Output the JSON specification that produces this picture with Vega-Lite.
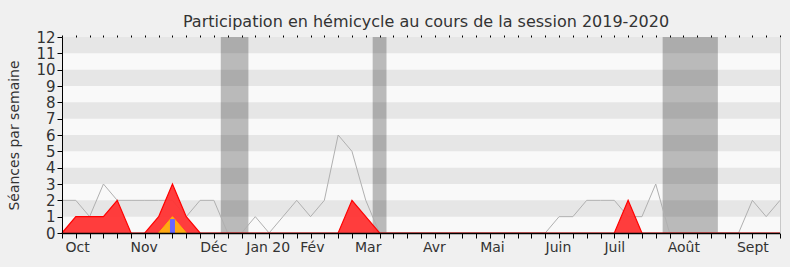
{
  "$schema": "https://vega.github.io/schema/vega-lite/v6.json",
  "width": 718,
  "height": 196,
  "autosize": {"type": "none"},
  "padding": {"left": 62, "top": 37, "right": 10, "bottom": 34},
  "background": "#f0f0f0",
  "title": {
    "text": "Participation en hémicycle au cours de la session 2019-2020",
    "font": "DejaVu Sans",
    "fontSize": 16,
    "fontWeight": "normal",
    "color": "#333333",
    "anchor": "middle",
    "frame": "group",
    "baseline": "alphabetic",
    "offset": 8,
    "dy": 21,
    "dx": 5
  },
  "config": {
    "font": "DejaVu Sans",
    "view": {"fill": "#f9f9f9", "stroke": null},
    "axis": {"zindex": 1, "grid": false}
  },
  "datasets": {
    "bandes": [
      {"bas": 1, "haut": 2}, {"bas": 3, "haut": 4}, {"bas": 5, "haut": 6},
      {"bas": 7, "haut": 8}, {"bas": 9, "haut": 10}, {"bas": 11, "haut": 12}
    ],
    "vacances": [
      {"debut": 11.5, "fin": 13.5},
      {"debut": 22.5, "fin": 23.5},
      {"debut": 43.5, "fin": 47.5}
    ],
    "semaines": [
      {"semaine": 0, "total": 2, "presence": 0},
      {"semaine": 1, "total": 2, "presence": 1},
      {"semaine": 2, "total": 1, "presence": 1},
      {"semaine": 3, "total": 3, "presence": 1},
      {"semaine": 4, "total": 2, "presence": 2},
      {"semaine": 5, "total": 2, "presence": 0},
      {"semaine": 6, "total": 2, "presence": 0},
      {"semaine": 7, "total": 2, "presence": 1, "interventions": 0},
      {"semaine": 8, "total": 2, "presence": 3, "interventions": 1, "questions": 0.85},
      {"semaine": 9, "total": 1, "presence": 1, "interventions": 0},
      {"semaine": 10, "total": 2, "presence": 0},
      {"semaine": 11, "total": 2, "presence": 0},
      {"semaine": 12, "total": 0, "presence": 0},
      {"semaine": 13, "total": 0, "presence": 0},
      {"semaine": 14, "total": 1, "presence": 0},
      {"semaine": 15, "total": 0, "presence": 0},
      {"semaine": 16, "total": 1, "presence": 0},
      {"semaine": 17, "total": 2, "presence": 0},
      {"semaine": 18, "total": 1, "presence": 0},
      {"semaine": 19, "total": 2, "presence": 0},
      {"semaine": 20, "total": 6, "presence": 0},
      {"semaine": 21, "total": 5, "presence": 2},
      {"semaine": 22, "total": 2, "presence": 1},
      {"semaine": 23, "total": 0, "presence": 0},
      {"semaine": 24, "total": 0, "presence": 0},
      {"semaine": 25, "total": 0, "presence": 0},
      {"semaine": 26, "total": 0, "presence": 0},
      {"semaine": 27, "total": 0, "presence": 0},
      {"semaine": 28, "total": 0, "presence": 0},
      {"semaine": 29, "total": 0, "presence": 0},
      {"semaine": 30, "total": 0, "presence": 0},
      {"semaine": 31, "total": 0, "presence": 0},
      {"semaine": 32, "total": 0, "presence": 0},
      {"semaine": 33, "total": 0, "presence": 0},
      {"semaine": 34, "total": 0, "presence": 0},
      {"semaine": 35, "total": 0, "presence": 0},
      {"semaine": 36, "total": 1, "presence": 0},
      {"semaine": 37, "total": 1, "presence": 0},
      {"semaine": 38, "total": 2, "presence": 0},
      {"semaine": 39, "total": 2, "presence": 0},
      {"semaine": 40, "total": 2, "presence": 0},
      {"semaine": 41, "total": 1, "presence": 2},
      {"semaine": 42, "total": 1, "presence": 0},
      {"semaine": 43, "total": 3, "presence": 0},
      {"semaine": 44, "total": 0, "presence": 0},
      {"semaine": 45, "total": 0, "presence": 0},
      {"semaine": 46, "total": 0, "presence": 0},
      {"semaine": 47, "total": 0, "presence": 0},
      {"semaine": 48, "total": 0, "presence": 0},
      {"semaine": 49, "total": 0, "presence": 0},
      {"semaine": 50, "total": 2, "presence": 0},
      {"semaine": 51, "total": 1, "presence": 0},
      {"semaine": 52, "total": 2, "presence": 0}
    ]
  },
  "layer": [
    {
      "data": {"name": "bandes"},
      "mark": {"type": "rect", "color": "#e6e6e6"},
      "encoding": {
        "y": {
          "field": "bas", "type": "quantitative",
          "scale": {"domain": [0, 12], "nice": false, "zero": true},
          "axis": {
            "orient": "left", "zindex": 2,
            "values": [0,1,2,3,4,5,6,7,8,9,10,11,12],
            "tickSize": 5, "tickColor": "#000000",
            "domainColor": "#000000",
            "labelPadding": 2, "labelFontSize": 15, "labelColor": "#333333",
            "labelFont": "DejaVu Sans",
            "title": "Séances par semaine",
            "titleFont": "DejaVu Sans", "titleFontSize": 14,
            "titleFontWeight": "normal", "titleColor": "#333333",
            "titlePadding": 14
          }
        },
        "y2": {"field": "haut"}
      }
    },
    {
      "data": {"name": "vacances"},
      "mark": {"type": "rect", "color": "#000000", "opacity": 0.25},
      "encoding": {
        "x": {
          "field": "debut", "type": "quantitative",
          "scale": {"domain": [0, 52], "nice": false, "zero": false},
          "axis": {
            "orient": "bottom", "zindex": 2,
            "values": [0,1,2,3,4,5,6,7,8,9,10,11,12,13,14,15,16,17,18,19,20,21,22,23,24,25,26,27,28,29,30,31,32,33,34,35,36,37,38,39,40,41,42,43,44,45,46,47,48,49,50,51,52],
            "labels": false, "title": null,
            "tickSize": 5, "tickColor": "#000000",
            "domainColor": "#000000", "domainWidth": 1.5
          }
        },
        "x2": {"field": "fin"}
      }
    },
    {
      "data": {"name": "semaines"},
      "mark": {"type": "line", "color": "#b0b0b0", "strokeWidth": 1},
      "encoding": {
        "x": {
          "field": "semaine", "type": "quantitative",
          "scale": {"domain": [0, 52], "nice": false, "zero": false},
          "axis": {
            "orient": "bottom", "zindex": 2,
            "values": [1.09, 5.91, 10.96, 14.9, 18.1, 22.14, 26.94, 31.14, 35.92, 40, 45, 50],
            "labelExpr": "datum.value < 3 ? 'Oct' : datum.value < 8 ? 'Nov' : datum.value < 12 ? 'Déc' : datum.value < 16 ? 'Jan 20' : datum.value < 20 ? 'Fév' : datum.value < 24 ? 'Mar' : datum.value < 28 ? 'Avr' : datum.value < 33 ? 'Mai' : datum.value < 38 ? 'Juin' : datum.value < 42 ? 'Juil' : datum.value < 47 ? 'Août' : 'Sept'",
            "ticks": false, "domain": false, "title": null,
            "labelPadding": 7, "labelFontSize": 14, "labelColor": "#333333",
            "labelFont": "DejaVu Sans", "labelOverlap": false, "labelFlush": false
          }
        },
        "y": {
          "field": "total", "type": "quantitative",
          "scale": {"domain": [0, 12], "nice": false},
          "axis": {
            "orient": "right", "zindex": 2, "values": [], "ticks": false, "labels": false,
            "title": null, "domainColor": "#c8c8c8"
          }
        }
      }
    },
    {
      "data": {"name": "semaines"},
      "mark": {"type": "area", "color": "#ff3333", "opacity": 0.95, "line": {"color": "#ff0000", "strokeWidth": 1.2}},
      "encoding": {
        "x": {
          "field": "semaine", "type": "quantitative",
          "scale": {"domain": [0, 52], "nice": false, "zero": false},
          "axis": {
            "orient": "top", "zindex": 2,
            "values": [0,1,2,3,4,5,6,7,8,9,10,11,12,13,14,15,16,17,18,19,20,21,22,23,24,25,26,27,28,29,30,31,32,33,34,35,36,37,38,39,40,41,42,43,44,45,46,47,48,49,50,51,52],
            "labels": false, "domain": false, "title": null,
            "tickSize": 2, "tickColor": "#000000"
          }
        },
        "y": {
          "field": "presence", "type": "quantitative",
          "scale": {"domain": [0, 12], "nice": false},
          "axis": null
        }
      }
    },
    {
      "data": {"name": "semaines"},
      "transform": [{"filter": "isValid(datum.interventions)"}],
      "mark": {"type": "area", "color": "#ffd700", "line": {"color": "#ffb400", "strokeWidth": 1}},
      "encoding": {
        "x": {"field": "semaine", "type": "quantitative", "scale": {"domain": [0, 52], "nice": false, "zero": false}, "axis": null},
        "y": {"field": "interventions", "type": "quantitative", "scale": {"domain": [0, 12], "nice": false}, "axis": null}
      }
    },
    {
      "data": {"name": "semaines"},
      "transform": [{"filter": "isValid(datum.questions)"}],
      "mark": {"type": "rule", "color": "#6666ff", "strokeWidth": 5, "strokeCap": "butt"},
      "encoding": {
        "x": {"field": "semaine", "type": "quantitative", "scale": {"domain": [0, 52], "nice": false, "zero": false}, "axis": null},
        "y": {"field": "questions", "type": "quantitative", "scale": {"domain": [0, 12], "nice": false}, "axis": null},
        "y2": {"datum": 0}
      }
    }
  ],
  "resolve": {"axis": {"x": "independent", "y": "independent"}}
}
